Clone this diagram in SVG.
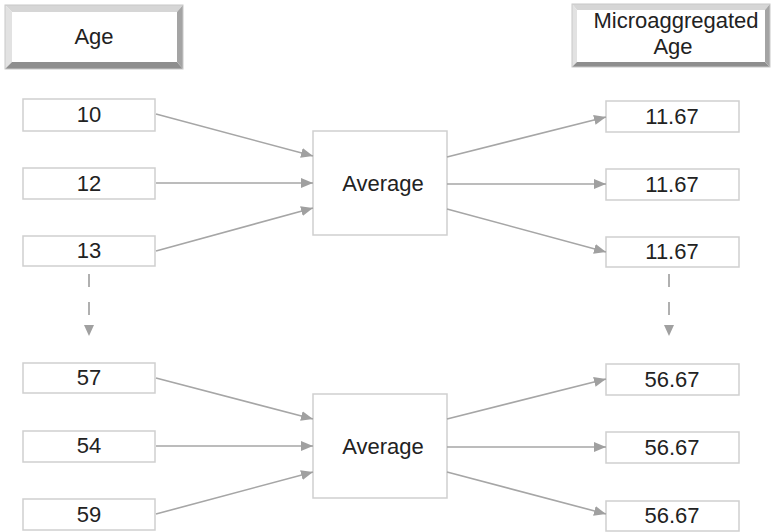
<svg xmlns="http://www.w3.org/2000/svg" width="771" height="532" viewBox="0 0 771 532">
<defs>
<style>
.box{fill:#fff;stroke:#cfcfcf;stroke-width:1.5}
.t{font-family:"Liberation Sans",Arial,sans-serif;font-size:22px;fill:#222;text-anchor:middle}
.c{stroke:#a6a6a6;stroke-width:1.6;fill:none}
.d{stroke:#b0b0b0;stroke-width:2;fill:none;stroke-dasharray:13 15}
.lt{fill:#e2e2e2}
.lt2{fill:#d6d6d6}
.dk{fill:#8e8e8e}
.dk2{fill:#a4a4a4}
</style>
<marker id="ah" viewBox="0 0 12 10" refX="12" refY="5" markerWidth="12" markerHeight="10" markerUnits="userSpaceOnUse" orient="auto">
<path d="M0,0 L12,5 L0,10 Z" fill="#a0a0a0"/>
</marker>
</defs>
<rect width="771" height="532" fill="#fff"/>

<g id="hdr-age">
<polygon class="lt2" points="5,5 183,5 177,12 12,12"/>
<polygon class="lt" points="5,5 12,12 12,62 5,69"/>
<polygon class="dk" points="5,69 12,62 177,62 183,69"/>
<polygon class="dk2" points="183,5 183,69 177,62 177,12"/>
<rect x="5" y="5" width="178" height="64" fill="none" stroke="#c8c8c8" stroke-width="1"/>
<text class="t" x="94" y="44">Age</text>
</g>

<g id="hdr-micro">
<polygon class="lt2" points="572,4 770,4 765,10 577,10"/>
<polygon class="lt" points="572,4 577,10 577,62 572,67"/>
<polygon class="dk" points="572,67 577,62 765,62 770,67"/>
<polygon class="dk2" points="770,4 770,67 765,62 765,10"/>
<rect x="572" y="4" width="198" height="63" fill="none" stroke="#c8c8c8" stroke-width="1"/>
<text class="t" x="676" y="28">Microaggregated</text>
<text class="t" x="673" y="54">Age</text>
</g>

<g id="in-10"><rect class="box" x="23" y="99" width="132" height="32"/><text class="t" x="89" y="122">10</text></g>
<g id="in-12"><rect class="box" x="23" y="168" width="132" height="31"/><text class="t" x="89" y="191">12</text></g>
<g id="in-13"><rect class="box" x="23" y="236" width="132" height="30"/><text class="t" x="89" y="258">13</text></g>

<g id="avg-1"><rect class="box" x="313" y="131" width="134" height="104"/><text class="t" x="383" y="191">Average</text></g>

<g id="out-1a"><rect class="box" x="606" y="101" width="133" height="31"/><text class="t" x="672" y="124">11.67</text></g>
<g id="out-1b"><rect class="box" x="606" y="169" width="133" height="31"/><text class="t" x="672" y="192">11.67</text></g>
<g id="out-1c"><rect class="box" x="606" y="237" width="133" height="30"/><text class="t" x="672" y="259">11.67</text></g>

<g id="in-57"><rect class="box" x="23" y="363" width="132" height="30"/><text class="t" x="89" y="385">57</text></g>
<g id="in-54"><rect class="box" x="23" y="431" width="132" height="31"/><text class="t" x="89" y="453">54</text></g>
<g id="in-59"><rect class="box" x="23" y="499" width="132" height="31"/><text class="t" x="89" y="522">59</text></g>

<g id="avg-2"><rect class="box" x="313" y="394" width="134" height="104"/><text class="t" x="383" y="454">Average</text></g>

<g id="out-2a"><rect class="box" x="606" y="364" width="133" height="31"/><text class="t" x="672" y="387">56.67</text></g>
<g id="out-2b"><rect class="box" x="606" y="432" width="133" height="31"/><text class="t" x="672" y="455">56.67</text></g>
<g id="out-2c"><rect class="box" x="606" y="501" width="133" height="30"/><text class="t" x="672" y="523">56.67</text></g>

<g id="connectors">
<line class="c" x1="156" y1="114" x2="313" y2="156" marker-end="url(#ah)"/>
<line class="c" x1="156" y1="183" x2="313" y2="183" marker-end="url(#ah)"/>
<line class="c" x1="156" y1="251" x2="313" y2="208" marker-end="url(#ah)"/>
<line class="c" x1="447" y1="157" x2="606" y2="117" marker-end="url(#ah)"/>
<line class="c" x1="447" y1="184" x2="606" y2="184" marker-end="url(#ah)"/>
<line class="c" x1="447" y1="209" x2="606" y2="252" marker-end="url(#ah)"/>

<line class="c" x1="156" y1="378" x2="313" y2="419" marker-end="url(#ah)"/>
<line class="c" x1="156" y1="446" x2="313" y2="446" marker-end="url(#ah)"/>
<line class="c" x1="156" y1="514" x2="313" y2="472" marker-end="url(#ah)"/>
<line class="c" x1="447" y1="419" x2="606" y2="379" marker-end="url(#ah)"/>
<line class="c" x1="447" y1="447" x2="606" y2="447" marker-end="url(#ah)"/>
<line class="c" x1="447" y1="472" x2="606" y2="514" marker-end="url(#ah)"/>

<line class="d" x1="89" y1="274" x2="89" y2="316"/>
<path d="M84,325 L94,325 L89,336 Z" fill="#a0a0a0"/>
<line class="d" x1="669" y1="274" x2="669" y2="316"/>
<path d="M664,325 L674,325 L669,336 Z" fill="#a0a0a0"/>
</g>
</svg>
